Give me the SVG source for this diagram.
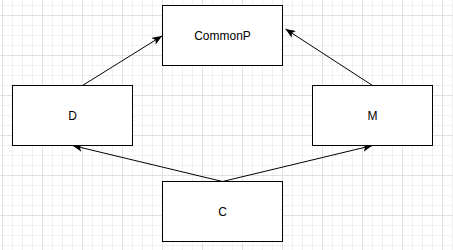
<svg xmlns="http://www.w3.org/2000/svg" width="453" height="250" viewBox="0 0 453 250">
  <defs>
    <pattern id="minor" x="2" y="5" width="10" height="10" patternUnits="userSpaceOnUse">
      <path d="M0.5 0V10M0 0.5H10" fill="none" stroke="#f0f0f0" stroke-width="1"/>
    </pattern>
    <pattern id="major" x="2" y="15" width="40" height="40" patternUnits="userSpaceOnUse">
      <path d="M0.5 0V40M0 0.5H40" fill="none" stroke="#e0e0e0" stroke-width="1"/>
    </pattern>
    <marker id="arrow" viewBox="0 0 10 8" refX="10" refY="4" markerWidth="10" markerHeight="8" markerUnits="userSpaceOnUse" orient="auto">
      <path d="M10 4L0 0L2.5 4L0 8Z" fill="#000"/>
    </marker>
    <style>
      .box { fill: #fff; stroke: #000; stroke-width: 1; }
      .label { font-family: "Liberation Sans", Arial, sans-serif; font-size: 12px; fill: #000; text-anchor: middle; dominant-baseline: central; }
      .edge { fill: none; stroke: #000; stroke-width: 1; marker-end: url(#arrow); }
    </style>
  </defs>

  <rect width="453" height="250" fill="#fff"/>
  <rect width="453" height="250" fill="url(#minor)"/>
  <rect width="453" height="250" fill="url(#major)"/>

  <g id="connectors">
    <line class="edge" x1="82.5" y1="85.5" x2="162" y2="36"/>
    <line class="edge" x1="372.5" y1="85.5" x2="285.5" y2="29"/>
    <line class="edge" x1="222.5" y1="181.5" x2="72.5" y2="145.5"/>
    <line class="edge" x1="222.5" y1="181.5" x2="372.5" y2="145.5"/>
  </g>

  <g id="commonp">
    <rect class="box" x="162.5" y="5.5" width="120" height="60"/>
    <text class="label" x="222.5" y="35.5">CommonP</text>
  </g>
  <g id="d">
    <rect class="box" x="12.5" y="85.5" width="120" height="60"/>
    <text class="label" x="72.5" y="115.5">D</text>
  </g>
  <g id="m">
    <rect class="box" x="312.5" y="85.5" width="120" height="60"/>
    <text class="label" x="372.5" y="115.5">M</text>
  </g>
  <g id="c">
    <rect class="box" x="162.5" y="181.5" width="120" height="60"/>
    <text class="label" x="222.5" y="211.5">C</text>
  </g>
</svg>
